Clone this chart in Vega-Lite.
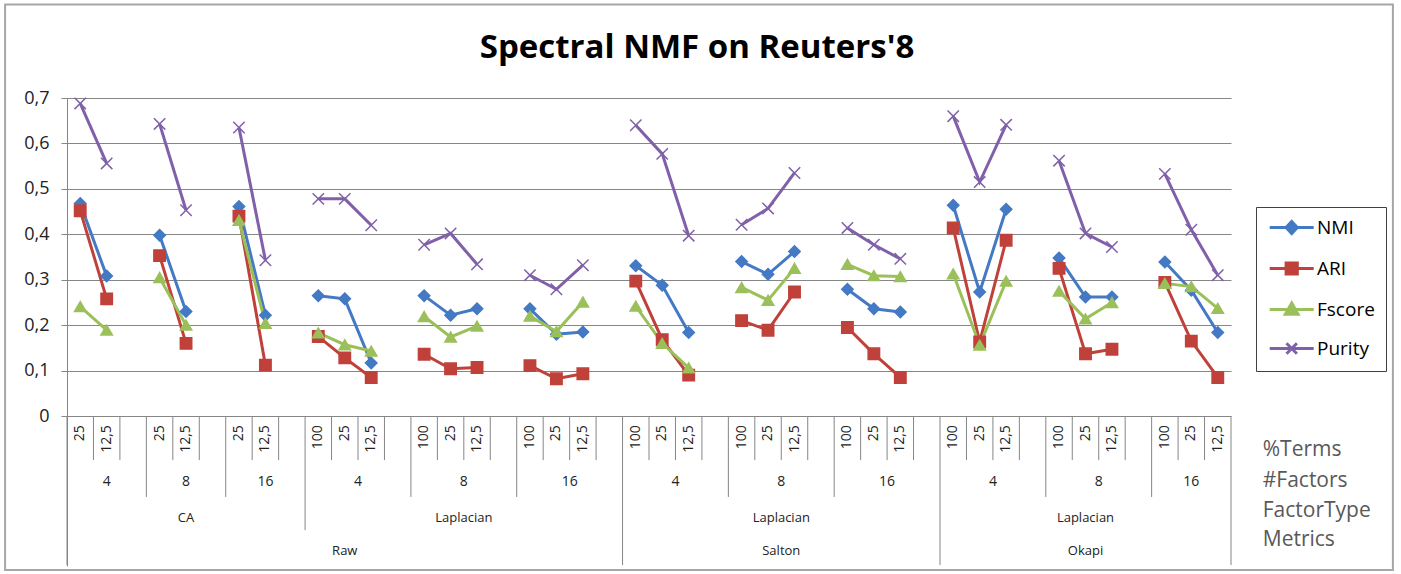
{
  "$schema": "https://vega.github.io/schema/vega-lite/v6.json",
  "width": 1164,
  "height": 468,
  "autosize": {"type": "none"},
  "padding": {"left": 67, "top": 98, "right": 170, "bottom": 8},
  "background": "white",
  "title": {"text": "Spectral NMF on Reuters'8", "fontSize": 33, "font": "Open Sans", "fontWeight": "bold", "color": "#000000", "anchor": "middle", "frame": "group", "dx": 48, "offset": -62},
  "config": {
    "view": {"stroke": null},
    "font": "Open Sans"
  },
  "datasets": {
    "scores": [
      {"i": 0, "g": "Raw-CA-4", "t": "25", "NMI": 0.468, "ARI": 0.452, "Fscore": 0.241, "Purity": 0.688},
      {"i": 1, "g": "Raw-CA-4", "t": "12,5", "NMI": 0.308, "ARI": 0.258, "Fscore": 0.189, "Purity": 0.556},
      {"i": 3, "g": "Raw-CA-8", "t": "25", "NMI": 0.398, "ARI": 0.353, "Fscore": 0.305, "Purity": 0.643},
      {"i": 4, "g": "Raw-CA-8", "t": "12,5", "NMI": 0.23, "ARI": 0.16, "Fscore": 0.2, "Purity": 0.453},
      {"i": 6, "g": "Raw-CA-16", "t": "25", "NMI": 0.461, "ARI": 0.44, "Fscore": 0.431, "Purity": 0.635},
      {"i": 7, "g": "Raw-CA-16", "t": "12,5", "NMI": 0.222, "ARI": 0.112, "Fscore": 0.204, "Purity": 0.343},
      {"i": 9, "g": "Raw-Lap-4", "t": "100", "NMI": 0.265, "ARI": 0.175, "Fscore": 0.183, "Purity": 0.478},
      {"i": 10, "g": "Raw-Lap-4", "t": "25", "NMI": 0.258, "ARI": 0.128, "Fscore": 0.157, "Purity": 0.478},
      {"i": 11, "g": "Raw-Lap-4", "t": "12,5", "NMI": 0.117, "ARI": 0.085, "Fscore": 0.143, "Purity": 0.42},
      {"i": 13, "g": "Raw-Lap-8", "t": "100", "NMI": 0.265, "ARI": 0.136, "Fscore": 0.219, "Purity": 0.377},
      {"i": 14, "g": "Raw-Lap-8", "t": "25", "NMI": 0.222, "ARI": 0.104, "Fscore": 0.174, "Purity": 0.402},
      {"i": 15, "g": "Raw-Lap-8", "t": "12,5", "NMI": 0.236, "ARI": 0.107, "Fscore": 0.198, "Purity": 0.334},
      {"i": 17, "g": "Raw-Lap-16", "t": "100", "NMI": 0.236, "ARI": 0.111, "Fscore": 0.22, "Purity": 0.31},
      {"i": 18, "g": "Raw-Lap-16", "t": "25", "NMI": 0.18, "ARI": 0.082, "Fscore": 0.186, "Purity": 0.279},
      {"i": 19, "g": "Raw-Lap-16", "t": "12,5", "NMI": 0.185, "ARI": 0.093, "Fscore": 0.251, "Purity": 0.332},
      {"i": 21, "g": "Salton-Lap-4", "t": "100", "NMI": 0.331, "ARI": 0.297, "Fscore": 0.242, "Purity": 0.64},
      {"i": 22, "g": "Salton-Lap-4", "t": "25", "NMI": 0.288, "ARI": 0.168, "Fscore": 0.16, "Purity": 0.577},
      {"i": 23, "g": "Salton-Lap-4", "t": "12,5", "NMI": 0.184, "ARI": 0.09, "Fscore": 0.106, "Purity": 0.397},
      {"i": 25, "g": "Salton-Lap-8", "t": "100", "NMI": 0.34, "ARI": 0.21, "Fscore": 0.283, "Purity": 0.421},
      {"i": 26, "g": "Salton-Lap-8", "t": "25", "NMI": 0.312, "ARI": 0.189, "Fscore": 0.255, "Purity": 0.457},
      {"i": 27, "g": "Salton-Lap-8", "t": "12,5", "NMI": 0.362, "ARI": 0.273, "Fscore": 0.325, "Purity": 0.535},
      {"i": 29, "g": "Salton-Lap-16", "t": "100", "NMI": 0.279, "ARI": 0.195, "Fscore": 0.334, "Purity": 0.414},
      {"i": 30, "g": "Salton-Lap-16", "t": "25", "NMI": 0.236, "ARI": 0.137, "Fscore": 0.309, "Purity": 0.377},
      {"i": 31, "g": "Salton-Lap-16", "t": "12,5", "NMI": 0.229, "ARI": 0.085, "Fscore": 0.307, "Purity": 0.346},
      {"i": 33, "g": "Okapi-Lap-4", "t": "100", "NMI": 0.464, "ARI": 0.414, "Fscore": 0.313, "Purity": 0.66},
      {"i": 34, "g": "Okapi-Lap-4", "t": "25", "NMI": 0.273, "ARI": 0.163, "Fscore": 0.156, "Purity": 0.515},
      {"i": 35, "g": "Okapi-Lap-4", "t": "12,5", "NMI": 0.455, "ARI": 0.387, "Fscore": 0.297, "Purity": 0.641},
      {"i": 37, "g": "Okapi-Lap-8", "t": "100", "NMI": 0.348, "ARI": 0.325, "Fscore": 0.275, "Purity": 0.562},
      {"i": 38, "g": "Okapi-Lap-8", "t": "25", "NMI": 0.262, "ARI": 0.137, "Fscore": 0.214, "Purity": 0.402},
      {"i": 39, "g": "Okapi-Lap-8", "t": "12,5", "NMI": 0.262, "ARI": 0.147, "Fscore": 0.25, "Purity": 0.372},
      {"i": 41, "g": "Okapi-Lap-16", "t": "100", "NMI": 0.339, "ARI": 0.294, "Fscore": 0.292, "Purity": 0.533},
      {"i": 42, "g": "Okapi-Lap-16", "t": "25", "NMI": 0.277, "ARI": 0.165, "Fscore": 0.285, "Purity": 0.41},
      {"i": 43, "g": "Okapi-Lap-16", "t": "12,5", "NMI": 0.184, "ARI": 0.085, "Fscore": 0.237, "Purity": 0.31}
    ],
    "groups": [
      {"lvl": 2, "label": "4", "c": 1}, {"lvl": 2, "label": "8", "c": 4}, {"lvl": 2, "label": "16", "c": 7},
      {"lvl": 2, "label": "4", "c": 10.5}, {"lvl": 2, "label": "8", "c": 14.5}, {"lvl": 2, "label": "16", "c": 18.5},
      {"lvl": 2, "label": "4", "c": 22.5}, {"lvl": 2, "label": "8", "c": 26.5}, {"lvl": 2, "label": "16", "c": 30.5},
      {"lvl": 2, "label": "4", "c": 34.5}, {"lvl": 2, "label": "8", "c": 38.5}, {"lvl": 2, "label": "16", "c": 42},
      {"lvl": 3, "label": "CA", "c": 4}, {"lvl": 3, "label": "Laplacian", "c": 14.5},
      {"lvl": 3, "label": "Laplacian", "c": 26.5}, {"lvl": 3, "label": "Laplacian", "c": 38},
      {"lvl": 4, "label": "Raw", "c": 10}, {"lvl": 4, "label": "Salton", "c": 26.5}, {"lvl": 4, "label": "Okapi", "c": 38}
    ],
    "bounds": [
      {"b": -0.5, "d": 4}, {"b": 0.5, "d": 1}, {"b": 1.5, "d": 1}, {"b": 2.5, "d": 2}, {"b": 3.5, "d": 1},
      {"b": 4.5, "d": 1}, {"b": 5.5, "d": 2}, {"b": 6.5, "d": 1}, {"b": 7.5, "d": 1}, {"b": 8.5, "d": 3},
      {"b": 9.5, "d": 1}, {"b": 10.5, "d": 1}, {"b": 11.5, "d": 1}, {"b": 12.5, "d": 2}, {"b": 13.5, "d": 1},
      {"b": 14.5, "d": 1}, {"b": 15.5, "d": 1}, {"b": 16.5, "d": 2}, {"b": 17.5, "d": 1}, {"b": 18.5, "d": 1},
      {"b": 19.5, "d": 1}, {"b": 20.5, "d": 4}, {"b": 21.5, "d": 1}, {"b": 22.5, "d": 1}, {"b": 23.5, "d": 1},
      {"b": 24.5, "d": 2}, {"b": 25.5, "d": 1}, {"b": 26.5, "d": 1}, {"b": 27.5, "d": 1}, {"b": 28.5, "d": 2},
      {"b": 29.5, "d": 1}, {"b": 30.5, "d": 1}, {"b": 31.5, "d": 1}, {"b": 32.5, "d": 4}, {"b": 33.5, "d": 1},
      {"b": 34.5, "d": 1}, {"b": 35.5, "d": 1}, {"b": 36.5, "d": 2}, {"b": 37.5, "d": 1}, {"b": 38.5, "d": 1},
      {"b": 39.5, "d": 1}, {"b": 40.5, "d": 2}, {"b": 41.5, "d": 1}, {"b": 42.5, "d": 1}, {"b": 43.5, "d": 4}
    ],
    "titles": [
      {"lvl": 1, "label": "%Terms"}, {"lvl": 2, "label": "#Factors"}, {"lvl": 3, "label": "FactorType"}, {"lvl": 4, "label": "Metrics"}
    ],
    "frame": [{"name": "chart area"}]
  },
  "layer": [
    {
      "data": {"name": "frame"},
      "mark": {"type": "rect", "fill": null, "stroke": "#A6A6A6", "strokeWidth": 2, "clip": false},
      "encoding": {
        "x": {"datum": -2.84, "type": "quantitative", "scale": {"domain": [-0.5, 43.5], "nice": false, "zero": false}, "axis": null},
        "x2": {"datum": 49.62},
        "y": {"datum": 0.906, "type": "quantitative"},
        "y2": {"datum": -0.339}
      }
    },
    {
      "data": {"name": "bounds"},
      "transform": [{"filter": "datum.d == 1"}],
      "mark": {"type": "rule", "color": "#868686", "strokeWidth": 1},
      "encoding": {
        "x": {"field": "b", "type": "quantitative"},
        "y": {"datum": 0, "type": "quantitative"},
        "y2": {"datum": -0.097}
      }
    },
    {
      "data": {"name": "bounds"},
      "transform": [{"filter": "datum.d == 2"}],
      "mark": {"type": "rule", "color": "#868686", "strokeWidth": 1},
      "encoding": {
        "x": {"field": "b", "type": "quantitative"},
        "y": {"datum": 0, "type": "quantitative"},
        "y2": {"datum": -0.178}
      }
    },
    {
      "data": {"name": "bounds"},
      "transform": [{"filter": "datum.d == 3"}],
      "mark": {"type": "rule", "color": "#868686", "strokeWidth": 1},
      "encoding": {
        "x": {"field": "b", "type": "quantitative"},
        "y": {"datum": 0, "type": "quantitative"},
        "y2": {"datum": -0.251}
      }
    },
    {
      "data": {"name": "bounds"},
      "transform": [{"filter": "datum.d == 4"}],
      "mark": {"type": "rule", "color": "#868686", "strokeWidth": 1},
      "encoding": {
        "x": {"field": "b", "type": "quantitative"},
        "y": {"datum": 0, "type": "quantitative"},
        "y2": {"datum": -0.328}
      }
    },
    {
      "data": {"name": "scores"},
      "mark": {"type": "text", "angle": 270, "align": "right", "baseline": "middle", "fontSize": 14, "font": "Open Sans", "color": "#222222"},
      "encoding": {
        "x": {"field": "i", "type": "quantitative"},
        "y": {"datum": -0.02, "type": "quantitative"},
        "text": {"field": "t"}
      }
    },
    {
      "data": {"name": "groups"},
      "transform": [{"filter": "datum.lvl == 2"}],
      "mark": {"type": "text", "align": "center", "baseline": "middle", "fontSize": 14, "font": "Open Sans", "color": "#222222"},
      "encoding": {
        "x": {"field": "c", "type": "quantitative"},
        "y": {"datum": -0.145, "type": "quantitative"},
        "text": {"field": "label"}
      }
    },
    {
      "data": {"name": "groups"},
      "transform": [{"filter": "datum.lvl == 3"}],
      "mark": {"type": "text", "align": "center", "baseline": "middle", "fontSize": 13, "font": "Open Sans", "color": "#222222"},
      "encoding": {
        "x": {"field": "c", "type": "quantitative"},
        "y": {"datum": -0.225, "type": "quantitative"},
        "text": {"field": "label"}
      }
    },
    {
      "data": {"name": "groups"},
      "transform": [{"filter": "datum.lvl == 4"}],
      "mark": {"type": "text", "align": "center", "baseline": "middle", "fontSize": 13, "font": "Open Sans", "color": "#222222"},
      "encoding": {
        "x": {"field": "c", "type": "quantitative"},
        "y": {"datum": -0.297, "type": "quantitative"},
        "text": {"field": "label"}
      }
    },
    {
      "data": {"name": "titles"},
      "transform": [{"filter": "datum.lvl == 1"}],
      "mark": {"type": "text", "align": "left", "baseline": "middle", "fontSize": 21, "font": "Open Sans", "color": "#595959"},
      "encoding": {"x": {"datum": 44.7, "type": "quantitative"}, "y": {"datum": -0.075, "type": "quantitative"}, "text": {"field": "label"}}
    },
    {
      "data": {"name": "titles"},
      "transform": [{"filter": "datum.lvl == 2"}],
      "mark": {"type": "text", "align": "left", "baseline": "middle", "fontSize": 21, "font": "Open Sans", "color": "#595959"},
      "encoding": {"x": {"datum": 44.7, "type": "quantitative"}, "y": {"datum": -0.143, "type": "quantitative"}, "text": {"field": "label"}}
    },
    {
      "data": {"name": "titles"},
      "transform": [{"filter": "datum.lvl == 3"}],
      "mark": {"type": "text", "align": "left", "baseline": "middle", "fontSize": 21, "font": "Open Sans", "color": "#595959"},
      "encoding": {"x": {"datum": 44.7, "type": "quantitative"}, "y": {"datum": -0.209, "type": "quantitative"}, "text": {"field": "label"}}
    },
    {
      "data": {"name": "titles"},
      "transform": [{"filter": "datum.lvl == 4"}],
      "mark": {"type": "text", "align": "left", "baseline": "middle", "fontSize": 21, "font": "Open Sans", "color": "#595959"},
      "encoding": {"x": {"datum": 44.7, "type": "quantitative"}, "y": {"datum": -0.273, "type": "quantitative"}, "text": {"field": "label"}}
    },
    {
      "data": {"name": "scores"},
      "transform": [{"fold": ["NMI", "ARI", "Fscore", "Purity"], "as": ["metric", "v"]}],
      "mark": {"type": "line", "strokeWidth": 3},
      "encoding": {
        "x": {"field": "i", "type": "quantitative"},
        "y": {
          "field": "v", "type": "quantitative",
          "scale": {"domain": [-0.33, 0.7], "nice": false, "zero": false},
          "axis": {
            "values": [0, 0.1, 0.2, 0.3, 0.4, 0.5, 0.6, 0.7],
            "labelExpr": "datum.value == 0 ? '0' : replace(format(datum.value, '.1f'), '.', ',')",
            "title": null, "grid": true, "gridColor": "#868686", "gridWidth": 1, "gridOpacity": 1,
            "domainColor": "#868686", "tickColor": "#868686", "tickSize": 6,
            "labelFont": "Open Sans", "labelFontSize": 18, "labelColor": "#222222", "labelPadding": 12
          }
        },
        "detail": {"field": "g"},
        "color": {
          "field": "metric", "type": "nominal",
          "scale": {"domain": ["NMI", "ARI", "Fscore", "Purity"], "range": ["#4479C4", "#C0403A", "#9BC05A", "#8060A8"]},
          "legend": {
            "orient": "none", "legendX": 1189, "legendY": 109, "title": null,
            "strokeColor": "#404040", "padding": 11, "rowPadding": 16,
            "labelFontSize": 19, "labelFont": "Open Sans", "labelColor": "#000000", "labelOffset": 31,
            "symbolSize": 256, "symbolStrokeWidth": 3,
            "encode": {
              "symbols": {
                "update": {
                  "shape": {"signal": "datum.value === 'NMI' ? 'M-0.85,0H4.65M1.9,-0.75L2.6,0L1.9,0.75L1.2,0Z' : datum.value === 'ARI' ? 'M-0.85,0H4.65M1.2,-0.7H2.6V0.7H1.2Z' : datum.value === 'Fscore' ? 'M-0.85,0H4.65M1.9,-0.8L2.7,0.6H1.1Z' : 'M-0.85,0H4.65M1.25,-0.65L2.55,0.65M1.25,0.65L2.55,-0.65'"},
                  "fill": {"signal": "datum.value === 'Purity' ? 'transparent' : scale('color', datum.value)"},
                  "strokeWidth": {"value": 3}
                }
              }
            }
          }
        }
      }
    },
    {
      "data": {"name": "scores"},
      "transform": [{"fold": ["NMI", "ARI", "Fscore", "Purity"], "as": ["metric", "v"]}],
      "mark": {"type": "point", "size": 130, "strokeWidth": 1.5, "opacity": 1},
      "encoding": {
        "x": {"field": "i", "type": "quantitative"},
        "y": {"field": "v", "type": "quantitative"},
        "fill": {"field": "metric", "type": "nominal", "scale": {"domain": ["Purity", "Fscore", "ARI", "NMI"], "range": ["transparent", "#9BC05A", "#C0403A", "#4479C4"]}, "legend": null},
        "stroke": {"field": "metric", "type": "nominal", "scale": {"domain": ["Purity", "Fscore", "ARI", "NMI"], "range": ["#8060A8", "#9BC05A", "#C0403A", "#4479C4"]}, "legend": null},
        "shape": {"field": "metric", "type": "nominal", "scale": {"domain": ["Purity", "Fscore", "ARI", "NMI"], "range": ["M-1,-1L1,1M-1,1L1,-1", "triangle-up", "square", "diamond"]}, "legend": null}
      }
    }
  ]
}
